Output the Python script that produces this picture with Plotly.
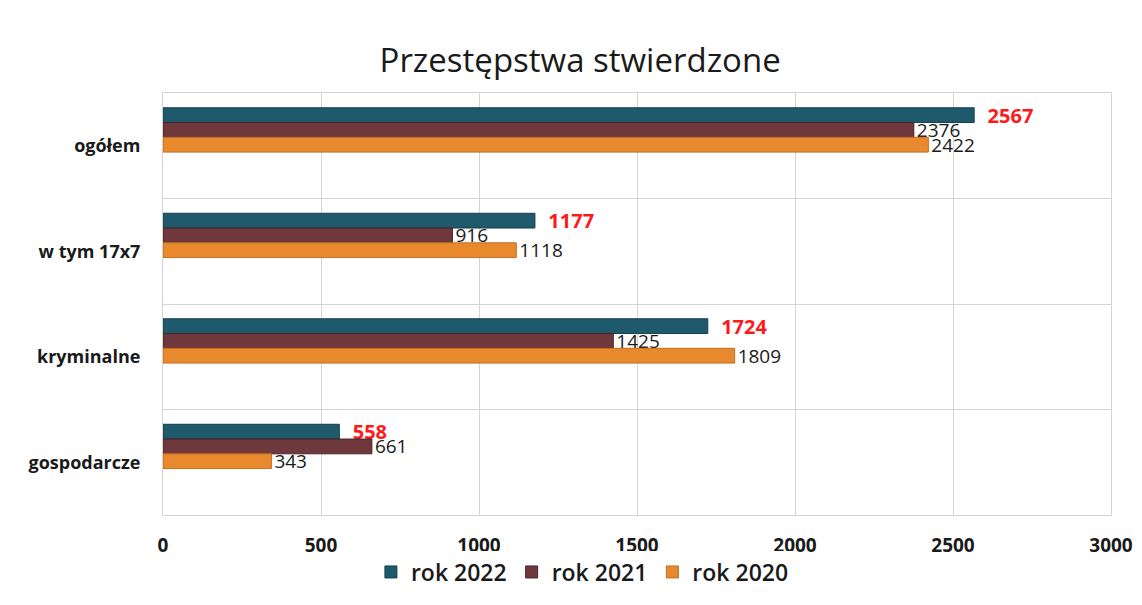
import plotly.graph_objects as go

categories = ["ogółem", "w tym 17x7", "kryminalne", "gospodarcze"]
series_names = ["rok 2022", "rok 2021", "rok 2020"]
v2022 = [2567, 1177, 1724, 558]
v2021 = [2376, 916, 1425, 661]
v2020 = [2422, 1118, 1809, 343]
x_ticks = [0, 500, 1000, 1500, 2000, 2500, 3000]

colors = ["#1f5a6c", "#6e383d", "#e8892d"]
line_colors = ["#163f4c", "#4a2428", "#c06f22"]
offsets = [-0.36, -0.22, -0.08]
values = [v2022, v2021, v2020]
ypos = list(range(len(categories)))

fig = go.Figure()
for i, (name, vals) in enumerate(zip(series_names, values)):
    if i == 0:
        tt = "  %{x}"
        tfont = dict(family="Open Sans", size=20, color="#ff1a1a", weight="bold")
    else:
        tt = "%{x}"
        tfont = dict(family="Open Sans", size=19, color="#1a1a1a")
    fig.add_trace(go.Bar(
        x=vals, y=ypos, orientation="h", name=name,
        width=0.14, offset=offsets[i],
        marker=dict(color=colors[i], line=dict(color=line_colors[i], width=1)),
        text=vals, texttemplate=tt, textposition="outside",
        textfont=tfont, cliponaxis=False, constraintext="none",
    ))

fig.update_layout(
    width=1142, height=605,
    margin=dict(l=155, r=39, t=85, b=98, autoexpand=False),
    paper_bgcolor="white", plot_bgcolor="white",
    barmode="overlay",
    title=dict(text="Przestępstwa stwierdzone", x=0.501, xanchor="center",
               y=0.914, yanchor="middle",
               font=dict(family="Open Sans", size=33, color="#1a1a1a")),
    showlegend=True,
    legend=dict(orientation="h", xref="container", x=0.503, xanchor="center",
                yref="container", y=1 - 564 / 605, yanchor="middle",
                font=dict(family="Open Sans", size=23, color="#1a1a1a", weight=600),
                traceorder="normal", itemwidth=30),
    xaxis=dict(range=[0, 3000], tickvals=x_ticks, showgrid=True, automargin=False,
               gridcolor="#d4d4d4", gridwidth=1, zeroline=False,
               showline=True, linecolor="#d4d4d4", mirror=True,
               ticks="outside", ticklen=13, tickcolor="rgba(0,0,0,0)",
               tickfont=dict(family="Open Sans", size=19, color="#1a1a1a", weight="bold")),
    yaxis=dict(range=[3.5, -0.5], tickvals=ypos, ticktext=categories, automargin=False,
               showgrid=False, zeroline=False,
               minor=dict(tick0=0.5, dtick=1, showgrid=True, gridcolor="#d4d4d4", gridwidth=1),
               showline=True, linecolor="#d4d4d4", mirror=True,
               ticks="outside", ticklen=18, tickcolor="rgba(0,0,0,0)",
               tickfont=dict(family="Open Sans", size=18, color="#1a1a1a", weight="bold")),
)

fig.write_html("out.html")
